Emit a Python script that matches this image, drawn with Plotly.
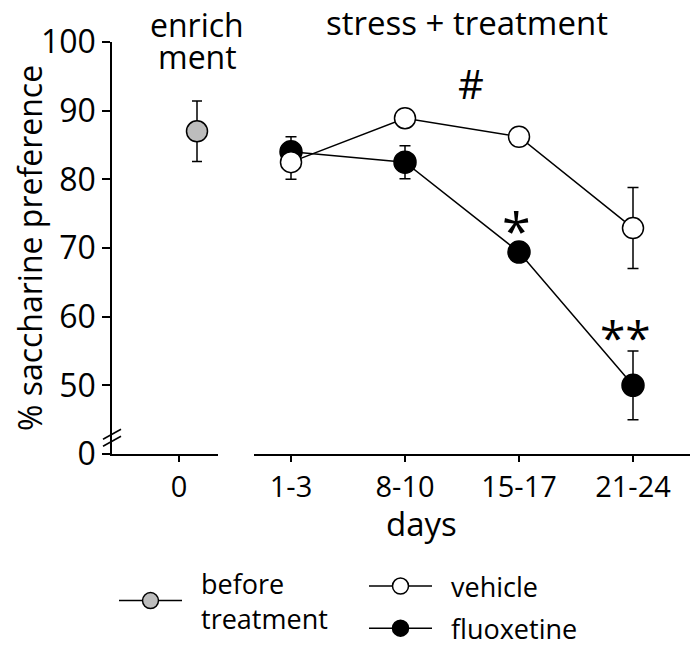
import plotly.graph_objects as go

# ---- data ----
days_treat = ["1-3", "8-10", "15-17", "21-24"]
before_x = [0]
before_y = [87.0]
before_err = [4.4]
vehicle_y = [82.5, 88.9, 86.2, 72.9]
vehicle_err = [2.5, 0.8, 0.8, 5.9]
fluox_y = [84.0, 82.5, 69.4, 50.0]
fluox_err = [2.2, 2.4, 0.8, 5.0]
y_tickvals = [40, 50, 60, 70, 80, 90, 100]
y_ticktext = ["0", "50", "60", "70", "80", "90", "100"]
sig_labels = ["#", "*", "**"]

FONT = "Open Sans"
# page body has an 8px default margin, so the figure is drawn 8px in from the top-left
OFF = 8
W, H = 700 - OFF, 648 - OFF
# plot area in page pixels: left 112, right 690, top 42, bottom 454
L = 112 - OFF
T = 42 - OFF
R = W - (690 - OFF)
B = H - (454 - OFF)
PW = W - L - R
PH = H - T - B
NB = "\u00a0\u00a0"

def px_x(p):
    return (p - OFF - L) / PW

def px_y(p):
    return (H - B - (p - OFF)) / PH

fig = go.Figure()

fig.add_trace(go.Scatter(
    x=before_x, y=before_y, mode="lines+markers", name=NB + "before<br>" + NB + "treatment",
    xaxis="x", yaxis="y", legend="legend",
    marker=dict(size=21, color="#bdbdbd", line=dict(color="black", width=1.5)),
    line=dict(color="black", width=1.5),
    error_y=dict(type="data", array=before_err, color="black", thickness=1.5, width=5),
))
fig.add_trace(go.Scatter(
    x=days_treat, y=fluox_y, mode="lines+markers", name=NB + "fluoxetine",
    xaxis="x2", yaxis="y", legend="legend2", legendgroup="f", legendrank=2,
    marker=dict(size=22, color="black", line=dict(color="black", width=1.5)),
    line=dict(color="black", width=1.5),
    error_y=dict(type="data", array=fluox_err, color="black", thickness=1.5, width=5.5),
))
fig.add_trace(go.Scatter(
    x=days_treat, y=vehicle_y, mode="lines+markers", name=NB + "vehicle",
    xaxis="x2", yaxis="y", legend="legend2", legendgroup="v", legendrank=1,
    marker=dict(size=21, color="white", line=dict(color="black", width=1.5)),
    line=dict(color="black", width=1.5),
    error_y=dict(type="data", array=vehicle_err, color="black", thickness=1.5, width=5.5),
))

xtickfont = dict(family=FONT, size=29, color="black")
ytickfont = dict(family=FONT, size=32, color="black")

fig.update_layout(
    width=W, height=H,
    margin=dict(l=L, r=R, t=T, b=B, autoexpand=False),
    paper_bgcolor="white", plot_bgcolor="white",
    font=dict(family=FONT, color="black"),
    xaxis=dict(
        domain=[0, px_x(218)], range=[-(197 - 112) / 114, (218 - 197) / 114],
        tickvals=[-18 / 114], ticktext=["0"],
        showline=True, linecolor="black", linewidth=1.5,
        ticks="outside", ticklen=6, tickwidth=1.5, tickcolor="black",
        showgrid=False, zeroline=False, tickfont=xtickfont, anchor="y",
    ),
    xaxis2=dict(
        domain=[px_x(254), 1], range=[-37 / 114, 3.5],
        type="category",
        showline=True, linecolor="black", linewidth=1.5,
        ticks="outside", ticklen=6, tickwidth=1.5, tickcolor="black",
        showgrid=False, zeroline=False, tickfont=xtickfont, anchor="y",
    ),
    yaxis=dict(
        range=[40, 100], tickvals=y_tickvals, ticktext=y_ticktext,
        showline=True, linecolor="black", linewidth=1.5,
        ticks="outside", ticklen=8, tickwidth=1.5, tickcolor="black",
        showgrid=False, zeroline=False, tickfont=ytickfont,
        title=dict(text="% saccharine preference", font=dict(family=FONT, size=32), standoff=10),
    ),
    legend=dict(
        x=px_x(114), y=px_y(601), xanchor="left", yanchor="middle",
        font=dict(family=FONT, size=27, color="black"), itemwidth=63,
        bgcolor="rgba(0,0,0,0)",
    ),
    legend2=dict(
        x=px_x(364), y=px_y(562), xanchor="left", yanchor="top",
        font=dict(family=FONT, size=27, color="black"), itemwidth=63,
        traceorder="grouped", tracegroupgap=4, bgcolor="rgba(0,0,0,0)",
    ),
    showlegend=True,
)

def ann(text, x, y, size, **kw):
    fig.add_annotation(text=text, x=px_x(x), y=px_y(y), xref="paper", yref="paper",
                       showarrow=False, font=dict(family=FONT, size=size, color="black"),
                       xanchor="center", yanchor="middle", **kw)

ann("enrich", 197, 25, 32)
ann("ment", 197, 57, 32)
ann("stress + treatment", 467, 23, 33)
ann(sig_labels[0], 471, 84, 40)
ann(sig_labels[1], 516, 229, 52)
ann(sig_labels[2], 625, 337, 46)
ann("days", 421, 523, 33)

# axis break marks
for (x0, y0, x1, y1) in [(-9, -6, 9, 4), (-9, 1, 9, 11)]:
    fig.add_shape(type="line", xref="paper", yref="y", xsizemode="pixel", ysizemode="pixel",
                  xanchor=0, yanchor=42, x0=x0, x1=x1, y0=y0, y1=y1,
                  line=dict(color="black", width=1.5))

fig.write_html("out.html")
